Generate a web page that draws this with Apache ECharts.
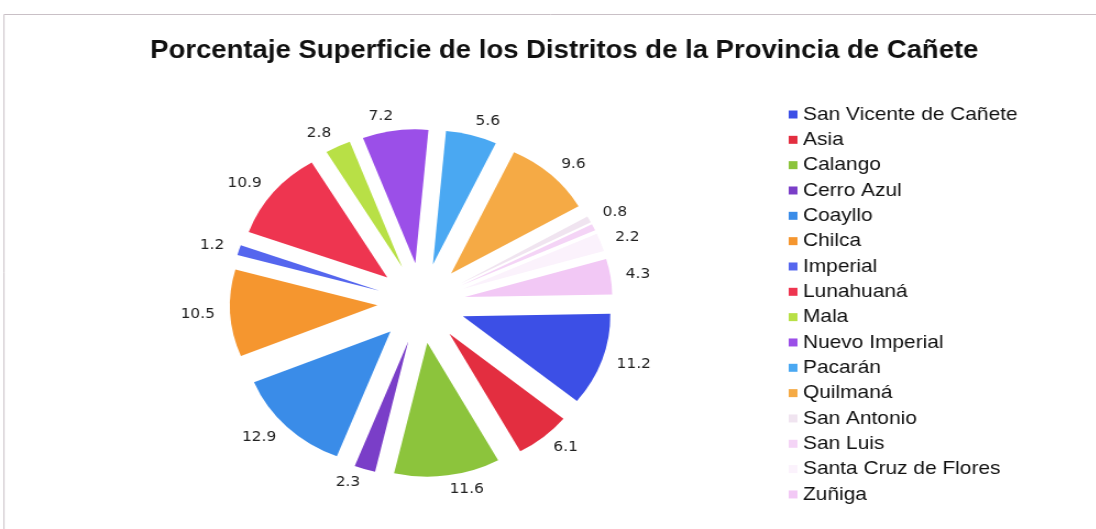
<!DOCTYPE html>
<html>
<head>
<meta charset="utf-8">
<script src="https://cdn.jsdelivr.net/npm/echarts@6/dist/echarts.min.js"></script>
<style>
  html, body { margin: 0; padding: 0; background: #fff; overflow: hidden; }
  /* el grafico original esta estirado en horizontal, se imita con scaleX */
  #chart { width: 996px; height: 529px; transform: scaleX(1.1); transform-origin: 0 0; }
</style>
</head>
<body>
<div id="chart"></div>
<script>
// distritos (orden de la leyenda)
var distritos = ['San Vicente de Cañete', 'Asia', 'Calango', 'Cerro Azul', 'Coayllo', 'Chilca',
  'Imperial', 'Lunahuaná', 'Mala', 'Nuevo Imperial', 'Pacarán', 'Quilmaná',
  'San Antonio', 'San Luis', 'Santa Cruz de Flores', 'Zuñiga'];
// porcentaje de superficie
var porcentajes = [11.2, 6.1, 11.6, 2.3, 12.9, 10.5, 1.2, 10.9, 2.8, 7.2, 5.6, 9.6, 0.8, 0.8, 2.2, 4.3];
// colores de cada sector
var colores = ['#3c4fe6', '#e32e40', '#8cc43c', '#7a3ec8', '#3a8ce8', '#f5962f',
  '#5566ee', '#ee3550', '#b8e046', '#9b4fe8', '#4aa8f2', '#f5aa45',
  '#f0e4f0', '#f4d4f6', '#fbf2fc', '#f2c8f5'];

var chart = echarts.init(document.getElementById('chart'), null, { renderer: 'canvas' });

var datos = [];
for (var i = 0; i < distritos.length; i++) {
  datos.push({ name: distritos[i], value: porcentajes[i], selected: true }); // todos separados
}

chart.setOption({
  color: colores,
  animation: false,
  // marco del grafico
  graphic: [{
    type: 'rect',
    shape: { x: 3.6, y: 14.5, width: 1100, height: 600 },
    style: { fill: 'none', stroke: '#c9c0c6', lineWidth: 1 }
  }],
  title: {
    text: 'Porcentaje Superficie de los Distritos de la Provincia de Cañete',
    left: 508,
    top: 34,
    textAlign: 'center',
    textStyle: { fontFamily: 'Liberation Sans', fontSize: 25, fontWeight: 'bold', color: '#111' }
  },
  legend: {
    orient: 'vertical',
    left: 717,
    top: 105,
    padding: 0,
    itemWidth: 8,
    itemHeight: 8,
    itemGap: 6.33,
    icon: 'rect',
    textStyle: { fontFamily: 'Liberation Sans', fontSize: 19, color: '#111', lineHeight: 19 },
    data: distritos
  },
  series: [{
    type: 'pie',
    center: [383, 303],
    radius: 134,
    startAngle: 1,
    clockwise: true,
    selectedMode: 'multiple',
    selectedOffset: 40,
    avoidLabelOverlap: false,
    emphasis: { disabled: true },
    label: {
      show: true,
      position: 'outside',
      formatter: '{c}',
      fontFamily: 'DejaVu Sans',
      fontSize: 14,
      color: '#222',
      distanceToLabelLine: 0
    },
    labelLine: { show: false, length: 14, length2: 0 },
    data: datos
  }]
});
</script>
</body>
</html>
